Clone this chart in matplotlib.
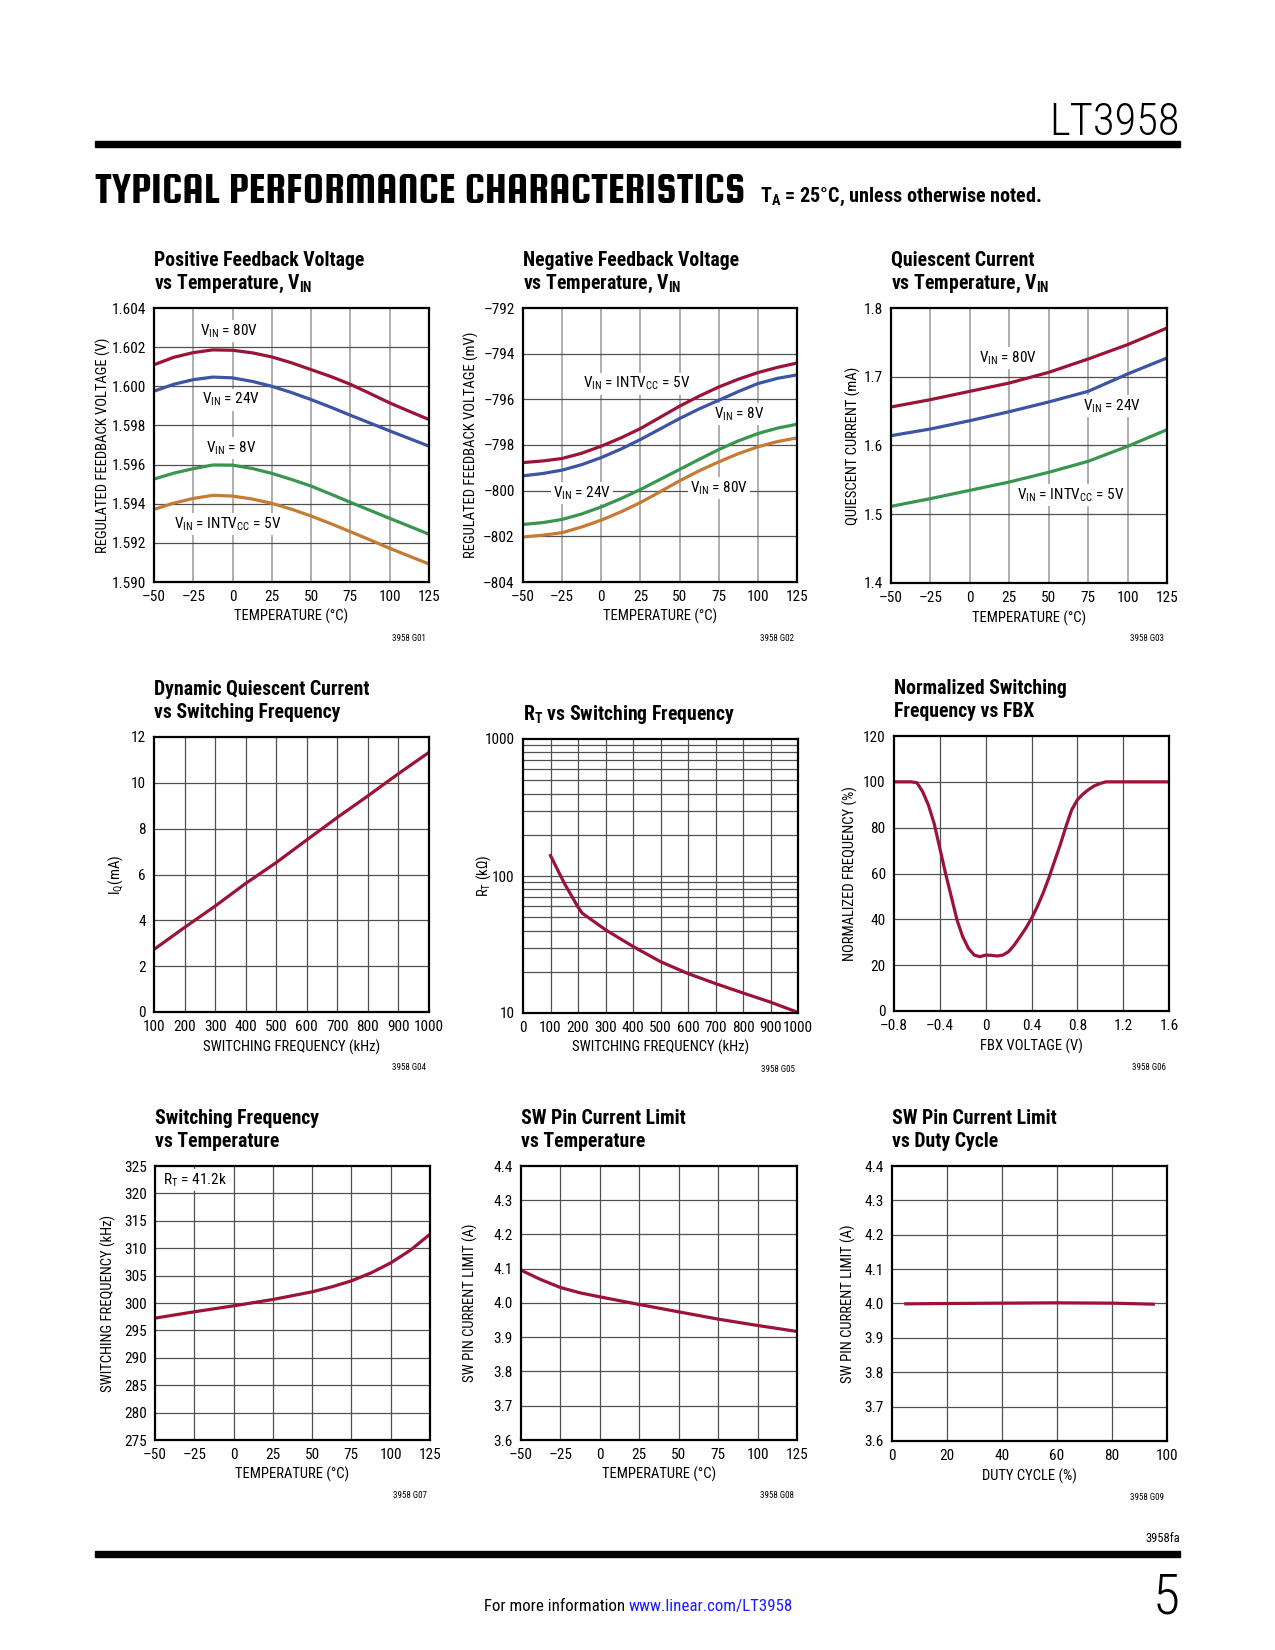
import matplotlib
matplotlib.use('Agg')
import matplotlib.pyplot as plt
from matplotlib import font_manager
from matplotlib.patches import Rectangle
from matplotlib.ticker import NullLocator

# ---- data ----
temp_labels = ['\u201350', '\u201325', '0', '25', '50', '75', '100', '125']
temp_ticks = [-50, -25, 0, 25, 50, 75, 100, 125]

# G01 positive feedback voltage (V)
g1_temp = [-50, -37.5, -25, -12.5, 0, 12.5, 25, 37.5, 50, 62.5, 75, 87.5, 100, 112.5, 125]
g1_80v = [1.60110, 1.60148, 1.60172, 1.60186, 1.60184, 1.60171, 1.60150, 1.60120, 1.60085,
          1.60050, 1.60010, 1.59963, 1.59915, 1.59872, 1.59830]
g1_24v = [1.59975, 1.60010, 1.60034, 1.60047, 1.60043, 1.60025, 1.60000, 1.59968, 1.59932,
          1.59893, 1.59852, 1.59812, 1.59772, 1.59733, 1.59694]
g1_8v = [1.59526, 1.59556, 1.59579, 1.59598, 1.59597, 1.59580, 1.59555, 1.59524, 1.59490,
         1.59449, 1.59407, 1.59366, 1.59325, 1.59285, 1.59244]
g1_5v = [1.59371, 1.59403, 1.59427, 1.59443, 1.59439, 1.59424, 1.59402, 1.59372, 1.59337,
         1.59298, 1.59257, 1.59215, 1.59172, 1.59132, 1.59092]
g1_yticks = [1.590, 1.592, 1.594, 1.596, 1.598, 1.600, 1.602, 1.604]
g1_ylabels = ['1.590', '1.592', '1.594', '1.596', '1.598', '1.600', '1.602', '1.604']

# G02 negative feedback voltage (mV)
g2_temp = [-50, -37.5, -25, -12.5, 0, 12.5, 25, 37.5, 50, 62.5, 75, 87.5, 100, 112.5, 125]
g2_5v = [-798.77, -798.70, -798.59, -798.36, -798.05, -797.69, -797.28, -796.79, -796.30,
         -795.86, -795.46, -795.12, -794.83, -794.60, -794.41]
g2_8v = [-799.35, -799.25, -799.10, -798.86, -798.55, -798.18, -797.76, -797.30, -796.84,
         -796.42, -796.04, -795.66, -795.31, -795.08, -794.93]
g2_24v = [-801.48, -801.40, -801.26, -801.02, -800.71, -800.35, -799.95, -799.51, -799.07,
          -798.63, -798.20, -797.82, -797.50, -797.26, -797.09]
g2_80v = [-802.03, -801.95, -801.84, -801.59, -801.29, -800.93, -800.52, -800.05, -799.57,
          -799.13, -798.74, -798.38, -798.08, -797.85, -797.69]
g2_yticks = [-804, -802, -800, -798, -796, -794, -792]
g2_ylabels = ['\u2013804', '\u2013802', '\u2013800', '\u2013798', '\u2013796', '\u2013794', '\u2013792']

# G03 quiescent current (mA)
g3_temp = [-50, -25, 0, 25, 50, 75, 100, 125]
g3_80v = [1.656, 1.6667, 1.6788, 1.6909, 1.7064, 1.7258, 1.7467, 1.7709]
g3_24v = [1.6143, 1.624, 1.6361, 1.6492, 1.6633, 1.6788, 1.704, 1.7273]
g3_5v = [1.5115, 1.5227, 1.5348, 1.5469, 1.561, 1.577, 1.5988, 1.623]
g3_yticks = [1.4, 1.5, 1.6, 1.7, 1.8]
g3_ylabels = ['1.4', '1.5', '1.6', '1.7', '1.8']

# G04 dynamic quiescent current
g4_freq = [100, 200, 300, 400, 500, 600, 700, 800, 900, 1000]
g4_iq = [2.73, 3.69, 4.62, 5.61, 6.52, 7.51, 8.49, 9.43, 10.40, 11.33]
g4_yticks = [0, 2, 4, 6, 8, 10, 12]

# G05 RT vs switching frequency
g5_freq = [100, 150, 200, 215, 300, 400, 500, 600, 700, 800, 900, 1000]
g5_rt = [141, 88.7, 59.3, 53.6, 40.5, 30.6, 23.7, 19.4, 16.4, 14.0, 12.0, 10.1]
g5_xticks = [0, 100, 200, 300, 400, 500, 600, 700, 800, 900, 1000]

# G06 normalized switching frequency vs FBX
g6_fbx = [-0.8, -0.65, -0.6, -0.55, -0.5, -0.45, -0.4, -0.35, -0.3, -0.25, -0.2, -0.15,
          -0.1, -0.05, 0.0, 0.05, 0.1, 0.15, 0.2, 0.25, 0.3, 0.35, 0.4, 0.45, 0.5, 0.55,
          0.6, 0.65, 0.7, 0.75, 0.8, 0.85, 0.9, 0.95, 1.0, 1.05, 1.1, 1.6]
g6_norm = [100, 100, 99.6, 95.7, 89.9, 81.9, 71.0, 60.0, 49.9, 39.7, 32.4, 27.3,
           24.4, 23.7, 24.4, 24.3, 24.0, 24.4, 25.9, 28.8, 32.4, 36.1, 40.4, 45.5, 51.3, 57.9,
           65.2, 72.4, 80.4, 87.7, 92.1, 94.7, 96.7, 98.3, 99.3, 100, 100, 100]
g6_xticks = [-0.8, -0.4, 0, 0.4, 0.8, 1.2, 1.6]
g6_xlabels = ['\u20130.8', '\u20130.4', '0', '0.4', '0.8', '1.2', '1.6']

# G07 switching frequency vs temperature
g7_temp = [-50, -25, 0, 25, 50, 62.5, 75, 87.5, 100, 112.5, 125]
g7_fsw = [297.24, 298.4, 299.48, 300.64, 302.04, 302.95, 304.04, 305.5, 307.32, 309.63, 312.55]
g7_yticks = [275, 280, 285, 290, 295, 300, 305, 310, 315, 320, 325]

# G08 SW pin current limit vs temperature
g8_temp = [-50, -37.5, -25, -12.5, 0, 25, 50, 75, 100, 125]
g8_ilim = [4.0957, 4.0685, 4.0452, 4.0296, 4.018, 3.9956, 3.9742, 3.9529, 3.9344, 3.9169]
ilim_ticks = [3.6, 3.7, 3.8, 3.9, 4.0, 4.1, 4.2, 4.3, 4.4]
ilim_labels = ['3.6', '3.7', '3.8', '3.9', '4.0', '4.1', '4.2', '4.3', '4.4']

# G09 SW pin current limit vs duty cycle
g9_duty = [5, 20, 40, 60, 80, 95]
g9_ilim = [3.999, 4.0, 4.001, 4.002, 4.001, 3.998]
g9_xticks = [0, 20, 40, 60, 80, 100]

# ---- style ----
RED = '#9b1437'
BLUE = '#3b55a3'
GREEN = '#3a9550'
ORANGE = '#c67b35'
DARK = '#505050'
LIGHT = '#a8a8a8'

names = {f.name for f in font_manager.fontManager.ttflist}
COND = 'Roboto Condensed' if 'Roboto Condensed' in names else 'DejaVu Sans'
HEAD = 'Squada One' if 'Squada One' in names else COND
plt.rcParams['font.family'] = [COND, 'DejaVu Sans']
plt.rcParams['mathtext.fontset'] = 'custom'
plt.rcParams['mathtext.rm'] = COND
plt.rcParams['mathtext.bf'] = COND + ':bold'

W, H = 1275, 1650
fig = plt.figure(figsize=(W / 100, H / 100), dpi=100)


def box(l, t, r, b):
    return fig.add_axes([l / W, 1 - b / H, (r - l) / W, (b - t) / H])


def fx(x):
    return x / W


def fy(y):
    return 1 - y / H


def title(ax, lines):
    l, b, w, h = ax.get_position().bounds
    top = (1 - b - h) * H
    for i, line in enumerate(reversed(lines)):
        fig.text(l, fy(top - 19 - 23 * i), line, fontsize=14.2, fontweight='bold',
                 ha='left', va='baseline')


def tag(ax, s):
    l, b, w, h = ax.get_position().bounds
    fig.text(l + w - 3 / W, b - 56 / H, s, fontsize=6.5, ha='right', va='center')


def frame(ax, xlim, ylim, xticks, xlabels, yticks, ylabels, xlabel, ylabel, ylab_x,
          vcol=DARK, logy=False, hlines=None):
    if logy:
        ax.set_yscale('log')
    ax.set_xlim(xlim)
    ax.set_ylim(ylim)
    ax.set_xticks(xticks)
    ax.set_xticklabels(xlabels)
    ax.set_yticks(yticks)
    ax.set_yticklabels(ylabels)
    ax.xaxis.set_minor_locator(NullLocator())
    ax.yaxis.set_minor_locator(NullLocator())
    ax.tick_params(length=0, labelsize=11)
    ax.tick_params(axis='x', pad=6)
    ax.tick_params(axis='y', pad=6)
    for v in xticks:
        if xlim[0] < v < xlim[1]:
            ax.axvline(v, color=vcol, lw=1.3 if vcol == LIGHT else 0.9, zorder=1)
    for v in (hlines if hlines is not None else yticks):
        if ylim[0] < v < ylim[1]:
            ax.axhline(v, color=DARK, lw=0.9, zorder=1)
    for s in ax.spines.values():
        s.set_linewidth(1.6)
        s.set_zorder(6)
    ax.set_xlabel(xlabel, fontsize=10.5, va='center')
    ax.xaxis.set_label_coords(0.5, -0.127)
    ax.set_ylabel(ylabel, fontsize=10.5, va='center')
    ax.yaxis.set_label_coords(ylab_x, 0.5)


def note(ax, x, y, s, ha='center'):
    ax.text(x, y, s, fontsize=11, ha=ha, va='center', zorder=3,
            bbox=dict(facecolor='white', edgecolor='none', pad=1.5))


LW = 2.3
VIN = r'V$_{\mathregular{IN}}$'
TEMP = 'TEMPERATURE (\u00b0C)'
INTVCC = r' = INTV$_{\mathregular{CC}}$ = 5V'

# ---- page header ----
fig.text(fx(1180), fy(135), 'LT3958', fontsize=32, fontweight='light', ha='right', va='baseline')
fig.patches.append(Rectangle((fx(95), fy(147)), fx(1180) - fx(95), 6 / H,
                             transform=fig.transFigure, color='black'))
fig.text(fx(95), fy(203), 'TYPICAL PERFORMANCE CHARACTERISTICS', fontsize=32,
         family=HEAD, ha='left', va='baseline')
fig.text(fx(760), fy(202), r'T$_{\mathregular{A}}$ = 25' + '\u00b0C, unless otherwise noted.',
         fontsize=14.5, fontweight='bold', ha='left', va='baseline')

# ---- G01 ----
ax = box(154, 308, 429, 582)
frame(ax, (-50, 125), (1.590, 1.604), temp_ticks, temp_labels, g1_yticks, g1_ylabels,
      TEMP, 'REGULATED FEEDBACK VOLTAGE (V)', -0.185, vcol=LIGHT)
ax.plot(g1_temp, g1_80v, color=RED, lw=LW, zorder=4)
ax.plot(g1_temp, g1_24v, color=BLUE, lw=LW, zorder=4)
ax.plot(g1_temp, g1_8v, color=GREEN, lw=LW, zorder=4)
ax.plot(g1_temp, g1_5v, color=ORANGE, lw=LW, zorder=4)
note(ax, -2, 1.60283, VIN + ' = 80V')
note(ax, -1, 1.59932, VIN + ' = 24V')
note(ax, -1, 1.59686, VIN + ' = 8V')
note(ax, -3, 1.59296, VIN + INTVCC)
title(ax, ['Positive Feedback Voltage', 'vs Temperature, ' + VIN])
tag(ax, '3958 G01')

# ---- G02 ----
ax = box(523, 308, 797, 582)
frame(ax, (-50, 125), (-804, -792), temp_ticks, temp_labels, g2_yticks, g2_ylabels,
      TEMP, 'REGULATED FEEDBACK VOLTAGE (mV)', -0.187, vcol=LIGHT)
ax.plot(g2_temp, g2_5v, color=RED, lw=LW, zorder=4)
ax.plot(g2_temp, g2_8v, color=BLUE, lw=LW, zorder=4)
ax.plot(g2_temp, g2_24v, color=GREEN, lw=LW, zorder=4)
ax.plot(g2_temp, g2_80v, color=ORANGE, lw=LW, zorder=4)
note(ax, 22.6, -795.31, VIN + INTVCC)
note(ax, 88, -796.65, VIN + ' = 8V')
note(ax, -12.4, -800.12, VIN + ' = 24V')
note(ax, 75.3, -799.9, VIN + ' = 80V')
title(ax, ['Negative Feedback Voltage', 'vs Temperature, ' + VIN])
tag(ax, '3958 G02')

# ---- G03 ----
ax = box(891, 308, 1167, 583)
frame(ax, (-50, 125), (1.4, 1.8), temp_ticks, temp_labels, g3_yticks, g3_ylabels,
      TEMP, 'QUIESCENT CURRENT (mA)', -0.137, vcol=LIGHT)
ax.plot(g3_temp, g3_80v, color=RED, lw=LW, zorder=4)
ax.plot(g3_temp, g3_24v, color=BLUE, lw=LW, zorder=4)
ax.plot(g3_temp, g3_5v, color=GREEN, lw=LW, zorder=4)
note(ax, 24.4, 1.7273, VIN + ' = 80V')
note(ax, 90, 1.657, VIN + ' = 24V')
note(ax, 64, 1.5285, VIN + INTVCC)
title(ax, ['Quiescent Current', 'vs Temperature, ' + VIN])
tag(ax, '3958 G03')

# ---- G04 ----
ax = box(154, 737, 429, 1012)
frame(ax, (100, 1000), (0, 12), g4_freq, [str(v) for v in g4_freq], g4_yticks,
      [str(v) for v in g4_yticks], 'SWITCHING FREQUENCY (kHz)', r'I$_{\mathregular{Q}}$(mA)', -0.136)
ax.plot(g4_freq, g4_iq, color=RED, lw=LW, zorder=4)
title(ax, ['Dynamic Quiescent Current', 'vs Switching Frequency'])
tag(ax, '3958 G04')

# ---- G05 ----
ax = box(523, 739, 798, 1013)
rt_grid = [m * d for d in (10, 100) for m in range(1, 10) if 10 < m * d < 1000]
frame(ax, (0, 1000), (10, 1000), g5_xticks, [str(v) for v in g5_xticks], [10, 100, 1000],
      ['10', '100', '1000'], 'SWITCHING FREQUENCY (kHz)', r'R$_{\mathregular{T}}$ (k' + '\u03a9)',
      -0.145, logy=True, hlines=rt_grid)
ax.plot(g5_freq, g5_rt, color=RED, lw=LW, zorder=4)
title(ax, [r'R$_{\mathregular{T}}$ vs Switching Frequency'])
tag(ax, '3958 G05')

# ---- G06 ----
ax = box(894, 736, 1169, 1011)
frame(ax, (-0.8, 1.6), (0, 120), g6_xticks, g6_xlabels, [0, 20, 40, 60, 80, 100, 120],
      ['0', '20', '40', '60', '80', '100', '120'], 'FBX VOLTAGE (V)',
      'NORMALIZED FREQUENCY (%)', -0.157)
ax.plot(g6_fbx, g6_norm, color=RED, lw=LW, zorder=4)
title(ax, ['Normalized Switching', 'Frequency vs FBX'])
tag(ax, '3958 G06')

# ---- G07 ----
ax = box(155, 1166, 430, 1440)
frame(ax, (-50, 125), (275, 325), temp_ticks, temp_labels, g7_yticks,
      [str(v) for v in g7_yticks], TEMP, 'SWITCHING FREQUENCY (kHz)', -0.17)
ax.plot(g7_temp, g7_fsw, color=RED, lw=LW, zorder=4)
note(ax, -45, 322.5, r'R$_{\mathregular{T}}$ = 41.2k', ha='left')
title(ax, ['Switching Frequency', 'vs Temperature'])
tag(ax, '3958 G07')

# ---- G08 ----
ax = box(521, 1166, 797, 1440)
frame(ax, (-50, 125), (3.6, 4.4), temp_ticks, temp_labels, ilim_ticks, ilim_labels,
      TEMP, 'SW PIN CURRENT LIMIT (A)', -0.183)
ax.plot(g8_temp, g8_ilim, color=RED, lw=LW, zorder=4)
title(ax, ['SW Pin Current Limit', 'vs Temperature'])
tag(ax, '3958 G08')

# ---- G09 ----
ax = box(892, 1166, 1167, 1441)
frame(ax, (0, 100), (3.6, 4.4), g9_xticks, [str(v) for v in g9_xticks], ilim_ticks,
      ilim_labels, 'DUTY CYCLE (%)', 'SW PIN CURRENT LIMIT (A)', -0.159)
ax.plot(g9_duty, g9_ilim, color=RED, lw=LW, zorder=4)
title(ax, ['SW Pin Current Limit', 'vs Duty Cycle'])
tag(ax, '3958 G09')

# ---- page footer ----
fig.text(fx(1180), fy(1542), '3958fa', fontsize=9, ha='right', va='baseline')
fig.patches.append(Rectangle((fx(95), fy(1557)), fx(1180) - fx(95), 6 / H,
                             transform=fig.transFigure, color='black'))
fig.text(fx(1180), fy(1613), '5', fontsize=40, fontweight='light', ha='right', va='baseline')
fig.text(fx(625), fy(1611), 'For more information', fontsize=12.2, ha='right', va='baseline')
fig.text(fx(629), fy(1611), 'www.linear.com/LT3958', fontsize=12.2, ha='left',
         va='baseline', color='#1a1aff')

fig.savefig('out.png', dpi=100, facecolor='white')
